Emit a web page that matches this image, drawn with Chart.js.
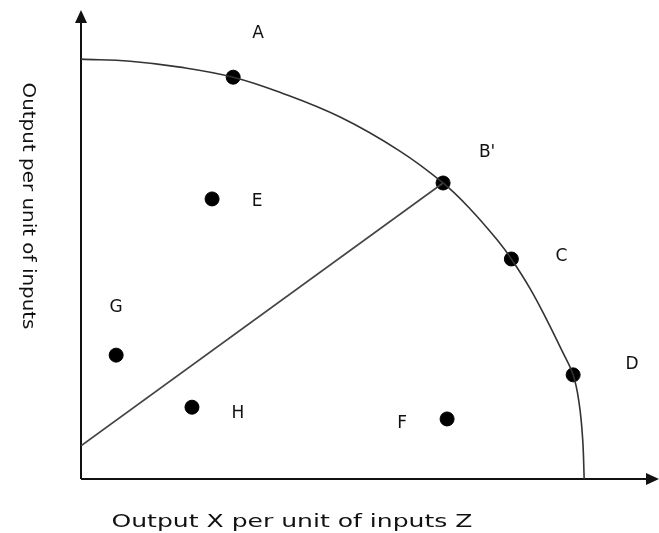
<!DOCTYPE html>
<html>
<head>
<meta charset="utf-8">
<script src="https://cdn.jsdelivr.net/npm/chart.js@4.4.0/dist/chart.umd.min.js"></script>
<style>
  body { margin: 0; background: #fff; }
</style>
</head>
<body>
<canvas id="grafico" width="659" height="533"></canvas>
<script>
// frontera de posibilidades
const fronteraX = [0, 0.98, 1.97, 3.03, 3.96, 5.16, 6.35, 7.21, 7.75, 8.29, 8.57, 8.94, 9.28, 9.58, 9.80, 9.92, 9.99, 10.02];
const fronteraY = [10.0, 9.95, 9.81, 9.57, 9.21, 8.62, 7.81, 7.05, 6.43, 5.69, 5.24, 4.54, 3.78, 3.05, 2.48, 1.80, 0.95, 0];

// recta desde el eje hasta B'
const rectaX = [0, 7.21];
const rectaY = [0.79, 7.05];

// puntos marcados
const etiquetas = ['A', "B'", 'C', 'D', 'E', 'G', 'H', 'F'];
const puntosX = [3.03, 7.21, 8.57, 9.80, 2.61, 0.70, 2.21, 7.29];
const puntosY = [9.57, 7.05, 5.24, 2.48, 6.67, 2.95, 1.71, 1.43];

const tituloX = 'Output X per unit of inputs Z';
const tituloY = 'Output per unit of inputs';

// desplazamiento de cada letra respecto de su punto (px)
const desplazamientos = [[25, -44], [44, -30], [50, -2], [59, -10], [45, 3], [0, -48], [46, 6], [-45, 5]];

const fuente = '17px "DejaVu Sans"';

function aPuntos(xs, ys) {
	return xs.map((x, i) => ({ x: x, y: ys[i] }));
}

/* texto estirado hasta un ancho dado */
function textoAncho(ctx, texto, x, y, ancho) {
	const w = ctx.measureText(texto).width;
	ctx.save();
	ctx.translate(x, y);
	ctx.scale(ancho / w, 1);
	ctx.fillText(texto, 0, 0);
	ctx.restore();
}

/* ejes con flechas */
const ejes = {
	id: 'ejes',
	beforeDatasetsDraw(chart) {
		const ctx = chart.ctx;
		const a = chart.chartArea;
		const x0 = chart.scales.x.getPixelForValue(0);
		const y0 = chart.scales.y.getPixelForValue(0);
		ctx.save();
		ctx.strokeStyle = '#111';
		ctx.fillStyle = '#111';
		ctx.lineWidth = 2;
		ctx.beginPath();
		ctx.moveTo(x0, y0);
		ctx.lineTo(x0, a.top + 8);
		ctx.moveTo(x0, y0);
		ctx.lineTo(a.right - 8, y0);
		ctx.stroke();
		ctx.beginPath();
		ctx.moveTo(x0, a.top);
		ctx.lineTo(x0 - 6, a.top + 13);
		ctx.lineTo(x0 + 6, a.top + 13);
		ctx.closePath();
		ctx.fill();
		ctx.beginPath();
		ctx.moveTo(a.right, y0);
		ctx.lineTo(a.right - 13, y0 - 6);
		ctx.lineTo(a.right - 13, y0 + 6);
		ctx.closePath();
		ctx.fill();
		ctx.restore();
	},
	afterDraw(chart) {
		const ctx = chart.ctx;
		const sx = chart.scales.x;
		const sy = chart.scales.y;
		ctx.save();
		ctx.fillStyle = '#111';
		ctx.font = fuente;
		ctx.textAlign = 'center';
		ctx.textBaseline = 'middle';
		etiquetas.forEach((t, i) => {
			const px = sx.getPixelForValue(puntosX[i]) + desplazamientos[i][0];
			const py = sy.getPixelForValue(puntosY[i]) + desplazamientos[i][1];
			ctx.fillText(t, px, py);
		});
		ctx.font = '18px "DejaVu Sans"';
		// titulo eje x
		textoAncho(ctx, tituloX, 292, 522, 361);
		// titulo eje y (girado)
		ctx.translate(28, 206);
		ctx.rotate(Math.PI / 2);
		textoAncho(ctx, tituloY, 0, 0, 247);
		ctx.restore();
	}
};

const ctx = document.getElementById('grafico');
const grafico = new Chart(ctx, {
	type: 'scatter',
	data: {
		datasets: [{
			data: aPuntos(fronteraX, fronteraY),
			showLine: true,
			borderColor: '#333',
			borderWidth: 1.6,
			pointRadius: 0,
			tension: 0.4
		}, {
			data: aPuntos(rectaX, rectaY),
			showLine: true,
			borderColor: '#444',
			borderWidth: 1.6,
			pointRadius: 0
		}, {
			data: aPuntos(puntosX, puntosY),
			showLine: false,
			backgroundColor: '#000',
			borderColor: '#000',
			pointRadius: 7,
			pointHoverRadius: 7
		}]
	},
	options: {
		responsive: false,
		animation: false,
		layout: { autoPadding: false, padding: { left: 81, right: 0, top: 10, bottom: 54 } },
		plugins: { legend: { display: false }, tooltip: { enabled: false } },
		scales: {
			x: { type: 'linear', min: 0, max: 11.51, display: false },
			y: { type: 'linear', min: 0, max: 11.17, display: false }
		}
	},
	plugins: [ejes]
});
</script>
</body>
</html>
